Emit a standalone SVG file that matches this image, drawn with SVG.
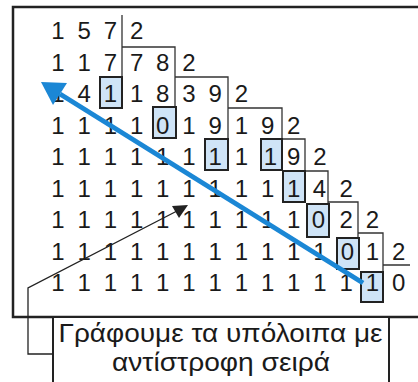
<svg xmlns="http://www.w3.org/2000/svg" width="418" height="382" viewBox="0 0 418 382">
<style>
.d{font-family:"Liberation Sans",Arial,sans-serif;font-size:24px;fill:#1a1a1a;text-anchor:middle}
.t{font-family:"Liberation Sans",Arial,sans-serif;font-size:25.5px;fill:#1a1a1a;text-anchor:middle}
.thin{fill:none;stroke:#333;stroke-width:1.3}
.bx{fill:#cfe4f7;stroke:#222;stroke-width:2}
.frame{fill:none;stroke:#222;stroke-width:2.5}
</style>
<rect width="418" height="382" fill="#fff"/>
<path class="frame" d="M418,7 H13 V317 H418"/>
<g id="steps">
<path class="thin" d="M122,15 V77 M122,47 H175 V107 M175,77 H228 V138 M228,108 H282 V139 M282,139 H305 V171 M305,171 H328 V204 M328,202 H358 V237 M358,233 H383 V271 M383,265 H410"/>
</g>
<g id="remainders">
<rect class="bx" x="100" y="77" width="22" height="31"/>
<rect class="bx" x="153" y="107" width="23" height="31"/>
<rect class="bx" x="205" y="139" width="23" height="31"/>
<rect class="bx" x="261" y="139" width="21" height="31"/>
<rect class="bx" x="283" y="171" width="22" height="31"/>
<rect class="bx" x="307" y="204" width="22" height="33"/>
<rect class="bx" x="337" y="238" width="22" height="31"/>
<rect class="bx" x="361" y="272" width="22" height="30"/>
</g>
<g id="digits">
<text class="d" x="58 84.2 110.4 136.6" y="39">1572</text>
<text class="d" x="58 84.2 110.4 136.6 162.8 189" y="70.5">117782</text>
<text class="d" x="58 84.2 110.4 136.6 162.8 189 215.2 241.4" y="102">14118392</text>
<text class="d" x="58 84.2 110.4 136.6 162.8 189 215.2 241.4 267.6 293.8" y="133.5">1111019192</text>
<text class="d" x="58 84.2 110.4 136.6 162.8 189 215.2 241.4 270.5 293.8 320" y="165">11111111192</text>
<text class="d" x="58 84.2 110.4 136.6 162.8 189 215.2 241.4 267.6 293.8 319.5 346.2" y="196.5">111111111142</text>
<text class="d" x="58 84.2 110.4 136.6 162.8 189 215.2 241.4 267.6 293.8 318.5 346.2 372.4" y="228">1111111111022</text>
<text class="d" x="58 84.2 110.4 136.6 162.8 189 215.2 241.4 267.6 293.8 320 347.5 372.4 398.6" y="259.5">11111111111012</text>
<text class="d" x="58 84.2 110.4 136.6 162.8 189 215.2 241.4 267.6 293.8 320 346.2 372.4 398.6" y="291">11111111111110</text>
</g>
<g id="note">
<rect x="53" y="317" width="336" height="72" fill="#fff" stroke="#222" stroke-width="2"/>
<text class="t" x="220.5" y="342" textLength="324" lengthAdjust="spacingAndGlyphs">Γράφουμε τα υπόλοιπα με</text>
<text class="t" x="221" y="371" textLength="218" lengthAdjust="spacingAndGlyphs">αντίστροφη σειρά</text>
</g>
<g id="connectors">
<path d="M363,283 L60,94" fill="none" stroke="#1b87d5" stroke-width="5"/>
<polygon points="41,82 67,83 53,105" fill="#1b87d5"/>
<path class="thin" d="M53,354 H28 V288 L177,211" style="stroke:#222"/>
<polygon points="172,206 188,205 179,218" fill="#222"/>
</g>
</svg>
